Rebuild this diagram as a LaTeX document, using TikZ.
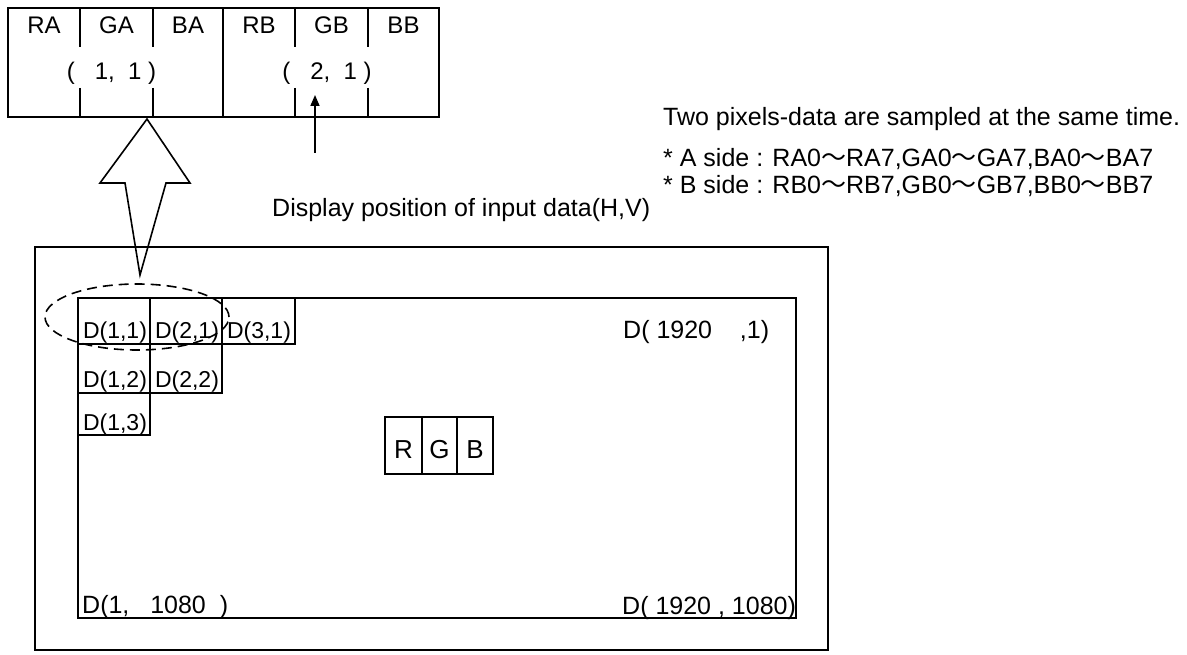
\documentclass[tikz,border=0pt]{standalone}
\usepackage{fontspec}
\setmainfont{Liberation Sans}
\newfontfamily\cjkjp{Noto Sans CJK JP}
\usetikzlibrary{arrows.meta,shapes.geometric}
\newcommand{\wv}{{\cjkjp ～}}
\begin{document}
\begin{tikzpicture}[x=1pt,y=-1pt,
  ln/.style={line width=1.9pt},
  thin ln/.style={line width=1.5pt},
  tbltxt/.style={inner sep=0pt,anchor=base,font=\fontsize{24}{28}\selectfont},
  celltxt/.style={inner sep=0pt,anchor=base,font=\fontsize{23}{27}\selectfont},
  bigtxt/.style={inner sep=0pt,anchor=base west,font=\fontsize{25}{30}\selectfont},
  rgbtxt/.style={inner sep=0pt,anchor=base,font=\fontsize{26}{30}\selectfont},
  selell/.style={draw,ellipse,dash pattern=on 10pt off 6pt,line width=1.6pt,minimum width=184pt,minimum height=66pt,inner sep=0pt}]
\useasboundingbox (0,0) rectangle (1187,655);

% ---- top table ----
\draw[ln] (8,8) rectangle (439,117);
\draw[ln] (223,8) -- (223,117);
\foreach \xx in {80,153,295,368}{
  \draw[thin ln] (\xx,8) -- (\xx,47);
  \draw[thin ln] (\xx,88) -- (\xx,117);
}
\node[tbltxt] (ra) at (44,34) {RA};
\node[tbltxt] (ga) at (116.5,34) {GA};
\node[tbltxt] (ba) at (188,34) {BA};
\node[tbltxt] (rb) at (259,34) {RB};
\node[tbltxt] (gb) at (331.5,34) {GB};
\node[tbltxt] (bb) at (403.5,34) {BB};
\node[tbltxt] (p11) at (111.5,80) {(\ \ \ 1,\ \ 1\ )};
\node[tbltxt] (p21) at (327,80) {(\ \ \ 2,\ \ 1\ )};

% ---- small arrow ----
\coordinate (pfoot) at (315,153);
\coordinate (ptip) at (315,95);
\draw[-{Triangle[length=11pt,width=9pt]},line width=1.6pt] (pfoot) -- (ptip);

% ---- big hollow arrow ----
\draw[line width=1.6pt,line join=miter] (147,119) -- (190,183) -- (166,183) -- (140,275) -- (125,183) -- (100,183) -- cycle;

% ---- texts ----
\node[bigtxt] (disp) at (272,217) {Display position of input data(H,V)};
\node[bigtxt] (two) at (663,126) {Two pixels-data are sampled at the same time.};
\node[bigtxt] (aside) at (663,167) {* A side : RA0\wv RA7,GA0\wv GA7,BA0\wv BA7};
\node[bigtxt] (bside) at (663,194) {* B side : RB0\wv RB7,GB0\wv GB7,BB0\wv BB7};

% ---- screen ----
\draw[ln] (35,247) rectangle (828,650);
\draw[ln] (78,298) rectangle (796,618);

% cells
\draw[thin ln] (78,298) rectangle (150,344);
\draw[thin ln] (150,298) rectangle (222,344);
\draw[thin ln] (222,298) rectangle (295,344);
\draw[thin ln] (78,344) rectangle (150,393);
\draw[thin ln] (150,344) rectangle (222,393);
\draw[thin ln] (78,393) rectangle (150,435);
\node[celltxt] (d11) at (115,338) {D(1,1)};
\node[celltxt] (d21) at (187,338) {D(2,1)};
\node[celltxt] (d31) at (259,338) {D(3,1)};
\node[celltxt] (d12) at (115,387) {D(1,2)};
\node[celltxt] (d22) at (187,387) {D(2,2)};
\node[celltxt] (d13) at (115,430) {D(1,3)};

\node[selell] (sel) at (137,317) {};

\node[bigtxt] (d19201) at (623,338) {D(\ 1920\ \ \ \ ,1)};
\node[bigtxt] (d11080) at (82,613) {D(1,\ \ \ 1080\ \ )};
\node[bigtxt] (d19201080) at (622,614) {D(\ 1920\ ,\ 1080)};

% RGB box
\draw[thin ln] (385,417) rectangle (493,474);
\draw[thin ln] (422,417) -- (422,474);
\draw[thin ln] (457,417) -- (457,474);
\node[rgbtxt] (r) at (403.5,458) {R};
\node[rgbtxt] (g) at (439.5,458) {G};
\node[rgbtxt] (b) at (475,458) {B};
\end{tikzpicture}
\end{document}
